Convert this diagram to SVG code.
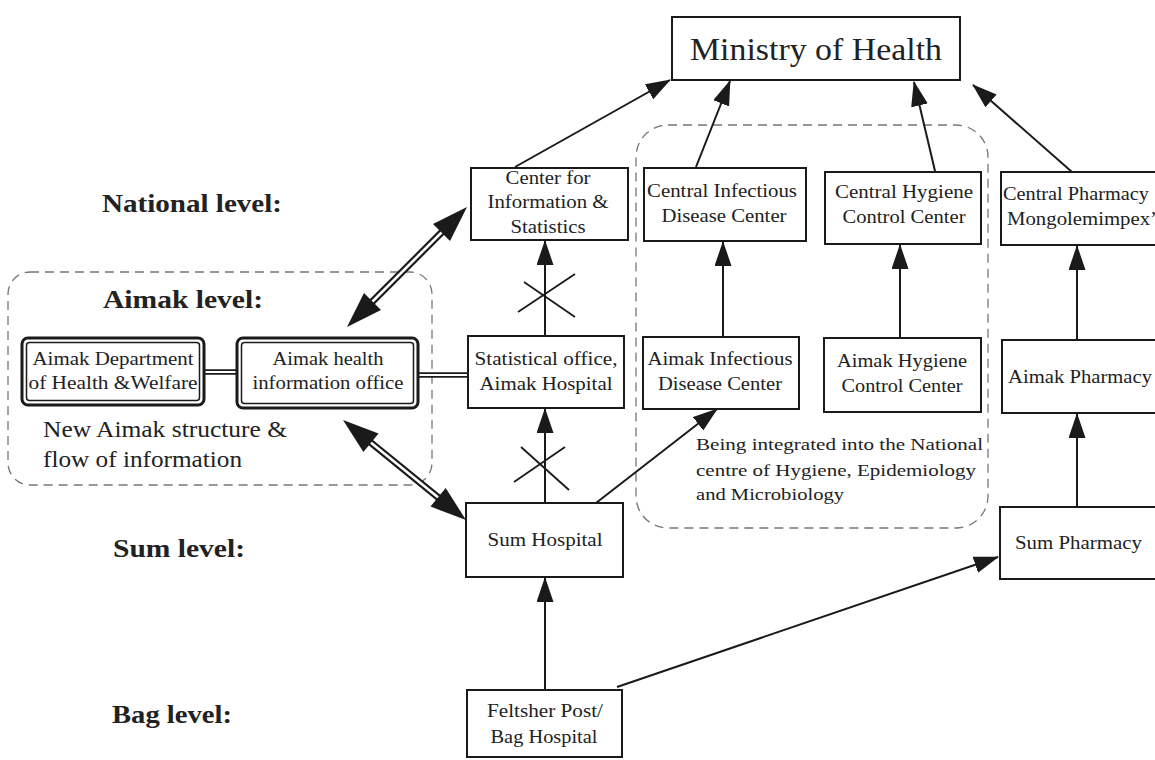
<svg xmlns="http://www.w3.org/2000/svg" width="1155" height="760" viewBox="0 0 1155 760">
  <style>
    .box { fill: #fff; stroke: #1a1a1a; stroke-width: 2; }
    .dbl-out { fill: #fff; stroke: #1a1a1a; stroke-width: 3; }
    .dbl-in { fill: none; stroke: #1a1a1a; stroke-width: 1.5; }
    .t { font-family: "Liberation Serif", "Times New Roman", serif; font-size: 19px; fill: #222; text-anchor: middle; }
    .ts { font-family: "Liberation Serif", "Times New Roman", serif; font-size: 17px; fill: #222; }
    .lvl { font-family: "Liberation Serif", "Times New Roman", serif; font-size: 26px; font-weight: bold; fill: #222; }
    .note { font-family: "Liberation Serif", "Times New Roman", serif; font-size: 23px; fill: #222; }
    .region { fill: none; stroke: #777; stroke-width: 1.3; stroke-dasharray: 9 6; }
    .edge { fill: none; stroke: #1a1a1a; stroke-width: 2; marker-end: url(#ah); }
    .plain { fill: none; stroke: #1a1a1a; stroke-width: 2; }
    .cross { fill: none; stroke: #1a1a1a; stroke-width: 1.8; }
    .dl-out { stroke: #1a1a1a; stroke-width: 7; }
    .dl-in { stroke: #fff; stroke-width: 2.6; }
    .link-out { stroke: #1a1a1a; stroke-width: 5.5; }
    .link-in { stroke: #fff; stroke-width: 2; }
    .head { fill: #1a1a1a; }
  </style>
  <defs>
    <marker id="ah" markerUnits="userSpaceOnUse" markerWidth="27" markerHeight="18" refX="24" refY="8.5" orient="auto">
      <path d="M0,0 L25,8.5 L0,17 z" fill="#1a1a1a"/>
    </marker>
  </defs>

  <rect width="1155" height="760" fill="#fff"/>

  <!-- dashed grouping regions -->
  <rect class="region" x="8" y="272" width="424" height="213" rx="22"/>
  <rect class="region" x="636" y="125" width="352" height="403" rx="32"/>

  <!-- level labels -->
  <g id="labels">
    <text class="lvl" x="102" y="212" textLength="180" lengthAdjust="spacingAndGlyphs">National level:</text>
    <text class="lvl" x="103" y="308" textLength="160" lengthAdjust="spacingAndGlyphs">Aimak level:</text>
    <text class="lvl" x="113" y="557" textLength="132" lengthAdjust="spacingAndGlyphs">Sum level:</text>
    <text class="lvl" x="112" y="723" textLength="120" lengthAdjust="spacingAndGlyphs">Bag level:</text>
    <text class="note" x="43" y="437" textLength="244" lengthAdjust="spacingAndGlyphs">New Aimak structure &amp;</text>
    <text class="note" x="43" y="467" textLength="199" lengthAdjust="spacingAndGlyphs">flow of information</text>
    <text class="ts" x="696" y="450" textLength="287" lengthAdjust="spacingAndGlyphs">Being integrated into the National</text>
    <text class="ts" x="696" y="476" textLength="280" lengthAdjust="spacingAndGlyphs">centre of Hygiene, Epidemiology</text>
    <text class="ts" x="696" y="500" textLength="148" lengthAdjust="spacingAndGlyphs">and Microbiology</text>
  </g>

  <!-- connectors -->
  <g id="connectors">
    <!-- into the Ministry -->
    <line class="edge" x1="515" y1="167" x2="670" y2="80"/>
    <line class="edge" x1="696" y1="167" x2="730" y2="81"/>
    <line class="edge" x1="935" y1="171" x2="914" y2="82"/>
    <line class="edge" x1="1072" y1="172" x2="973" y2="85"/>

    <!-- aimak to national -->
    <line class="edge" x1="545" y1="336" x2="545" y2="241"/>
    <line class="edge" x1="723" y1="337" x2="723" y2="242"/>
    <line class="edge" x1="900" y1="338" x2="900" y2="245"/>
    <line class="edge" x1="1077" y1="340" x2="1077" y2="246"/>

    <!-- sum to aimak -->
    <line class="edge" x1="545" y1="503" x2="545" y2="409"/>
    <line class="edge" x1="596" y1="503" x2="717" y2="409"/>
    <line class="edge" x1="1077" y1="507" x2="1077" y2="414"/>

    <!-- bag to sum -->
    <line class="edge" x1="545" y1="690" x2="545" y2="578"/>
    <line class="edge" x1="617" y1="687" x2="998" y2="557"/>

    <!-- interrupted flows -->
    <line class="cross" x1="524" y1="282" x2="575" y2="317"/>
    <line class="cross" x1="518" y1="312" x2="575" y2="274"/>
    <line class="cross" x1="521" y1="447" x2="569" y2="490"/>
    <line class="cross" x1="514" y1="482" x2="565" y2="447"/>

    <!-- double links inside the aimak structure -->
    <line class="link-out" x1="203" y1="372" x2="238" y2="372"/>
    <line class="link-in" x1="201" y1="372" x2="240" y2="372"/>
    <line class="link-out" x1="417" y1="375" x2="469" y2="375"/>
    <line class="link-in" x1="415" y1="375" x2="467" y2="375"/>

    <!-- two-way exchange: health information office and national centre -->
    <line class="dl-out" x1="362" y1="312" x2="452" y2="222"/>
    <line class="dl-in" x1="366" y1="308" x2="448" y2="226"/>
    <polygon class="head" points="467,207 450,241 433,224"/>
    <polygon class="head" points="347,327 381,310 364,293"/>

    <!-- two-way exchange: health information office and sum hospital -->
    <line class="dl-out" x1="358.5" y1="432.6" x2="450.5" y2="507.4"/>
    <line class="dl-in" x1="364" y1="437" x2="445" y2="503"/>
    <polygon class="head" points="343,420 378.5,433.4 363.4,452"/>
    <polygon class="head" points="466,520 430.5,506.6 445.7,488"/>
  </g>

  <!-- national level -->
  <g id="ministry">
    <rect class="box" x="672" y="17" width="288" height="63"/>
    <text class="t" x="816" y="60" style="font-size:32px" textLength="252" lengthAdjust="spacingAndGlyphs">Ministry of Health</text>
  </g>
  <g id="center-info-stats">
    <rect class="box" x="471" y="168" width="157" height="72"/>
    <text class="t" x="548" y="184" style="font-size:18px" textLength="85" lengthAdjust="spacingAndGlyphs">Center for</text>
    <text class="t" x="548" y="208" style="font-size:18px" textLength="121" lengthAdjust="spacingAndGlyphs">Information &amp;</text>
    <text class="t" x="548" y="233" style="font-size:18px" textLength="75" lengthAdjust="spacingAndGlyphs">Statistics</text>
  </g>
  <g id="central-infectious">
    <rect class="box" x="644" y="168" width="162" height="73"/>
    <text class="t" x="722" y="197" textLength="150" lengthAdjust="spacingAndGlyphs">Central Infectious</text>
    <text class="t" x="724" y="222" textLength="125" lengthAdjust="spacingAndGlyphs">Disease Center</text>
  </g>
  <g id="central-hygiene">
    <rect class="box" x="825" y="172" width="156" height="72"/>
    <text class="t" x="904" y="198" textLength="138" lengthAdjust="spacingAndGlyphs">Central Hygiene</text>
    <text class="t" x="904" y="223" textLength="123" lengthAdjust="spacingAndGlyphs">Control Center</text>
  </g>
  <g id="central-pharmacy">
    <rect class="box" x="1001" y="172" width="170" height="73"/>
    <text class="t" x="1003" y="200" style="text-anchor:start" textLength="146" lengthAdjust="spacingAndGlyphs">Central Pharmacy</text>
    <text class="t" x="1007" y="225" style="text-anchor:start" textLength="150" lengthAdjust="spacingAndGlyphs">Mongolemimpex’</text>
  </g>

  <!-- aimak level -->
  <g id="aimak-dept">
    <rect class="dbl-out" x="22" y="338" width="182" height="67" rx="6"/>
    <rect class="dbl-in" x="26.5" y="342.5" width="173" height="58" rx="3"/>
    <text class="t" x="113" y="365" style="font-size:18px" textLength="161" lengthAdjust="spacingAndGlyphs">Aimak Department</text>
    <text class="t" x="113" y="389" style="font-size:18px" textLength="169" lengthAdjust="spacingAndGlyphs">of Health &amp;Welfare</text>
  </g>
  <g id="aimak-health-info">
    <rect class="dbl-out" x="237" y="338" width="181" height="70" rx="6"/>
    <rect class="dbl-in" x="241.5" y="342.5" width="172" height="61" rx="3"/>
    <text class="t" x="328" y="365" style="font-size:18px" textLength="111" lengthAdjust="spacingAndGlyphs">Aimak health</text>
    <text class="t" x="328" y="389" style="font-size:18px" textLength="151" lengthAdjust="spacingAndGlyphs">information office</text>
  </g>
  <g id="statistical-office">
    <rect class="box" x="468" y="336" width="156" height="72"/>
    <text class="t" x="546" y="365" textLength="143" lengthAdjust="spacingAndGlyphs">Statistical office,</text>
    <text class="t" x="546" y="390" textLength="133" lengthAdjust="spacingAndGlyphs">Aimak Hospital</text>
  </g>
  <g id="aimak-infectious">
    <rect class="box" x="643" y="337" width="156" height="72"/>
    <text class="t" x="720" y="365" textLength="145" lengthAdjust="spacingAndGlyphs">Aimak Infectious</text>
    <text class="t" x="720" y="390" textLength="124" lengthAdjust="spacingAndGlyphs">Disease Center</text>
  </g>
  <g id="aimak-hygiene">
    <rect class="box" x="824" y="338" width="157" height="74"/>
    <text class="t" x="902" y="367" textLength="130" lengthAdjust="spacingAndGlyphs">Aimak Hygiene</text>
    <text class="t" x="902" y="392" textLength="121" lengthAdjust="spacingAndGlyphs">Control Center</text>
  </g>
  <g id="aimak-pharmacy">
    <rect class="box" x="1002" y="340" width="170" height="73"/>
    <text class="t" x="1008" y="383" style="text-anchor:start" textLength="144" lengthAdjust="spacingAndGlyphs">Aimak Pharmacy</text>
  </g>

  <!-- sum level -->
  <g id="sum-hospital">
    <rect class="box" x="466" y="503" width="157" height="74"/>
    <text class="t" x="545" y="546" style="font-size:18px" textLength="115" lengthAdjust="spacingAndGlyphs">Sum Hospital</text>
  </g>
  <g id="sum-pharmacy">
    <rect class="box" x="1000" y="507" width="170" height="72"/>
    <text class="t" x="1015" y="549" style="text-anchor:start;font-size:18px" textLength="127" lengthAdjust="spacingAndGlyphs">Sum Pharmacy</text>
  </g>

  <!-- bag level -->
  <g id="feltsher-post">
    <rect class="box" x="467" y="690" width="155" height="67"/>
    <text class="t" x="545" y="717" style="font-size:18px" textLength="116" lengthAdjust="spacingAndGlyphs">Feltsher Post/</text>
    <text class="t" x="544" y="743" style="font-size:18px" textLength="107" lengthAdjust="spacingAndGlyphs">Bag Hospital</text>
  </g>
</svg>
